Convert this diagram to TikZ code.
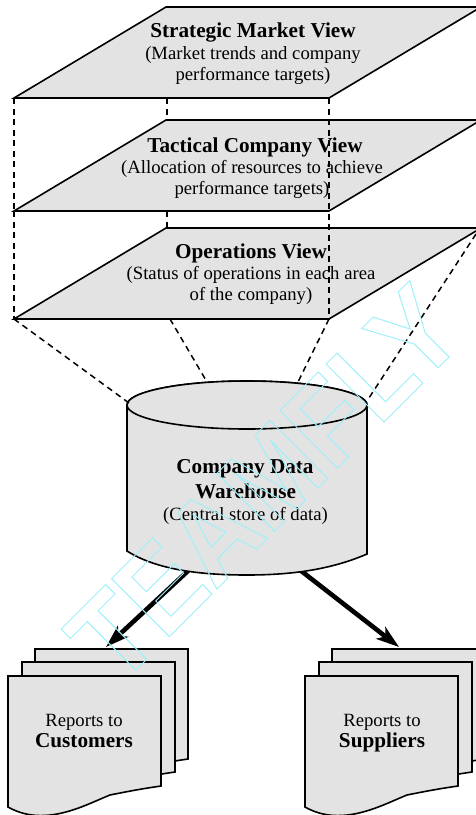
\documentclass[tikz,border=0pt]{standalone}
\usepackage{fontspec}
\setmainfont{Liberation Serif}
\newfontfamily\wmfont{Liberation Sans}[FakeStretch=0.9]
\usetikzlibrary{arrows.meta}
\definecolor{panel}{HTML}{E3E3E3}
\definecolor{wmcyan}{HTML}{A8F2FA}
\tikzset{
  x=1pt,y=-1pt,
  shape line/.style={draw=black,line width=1.6pt,fill=panel,line join=miter},
  guide/.style={draw=black,line width=1.5pt,dash pattern=on 6pt off 4.5pt},
  flow/.style={draw=black,line width=4.6pt,-{Stealth[length=23pt,width=15pt,inset=6pt]}},
  label/.style={align=center,inner sep=0pt,anchor=base,text=black},
  head/.style={font=\fontsize{21.2}{24}\selectfont\bfseries},
  sub/.style={font=\fontsize{18.7}{21}\selectfont},
}
\newcommand{\planeat}[2]{%
  \coordinate (#2bl) at (14,#1);
  \coordinate (#2br) at (329,#1);
  \coordinate (#2tl) at (166,#1-91);
  \coordinate (#2tr) at (481,#1-91);
  \path[shape line] (#2bl) -- (#2br) -- (#2tr) -- (#2tl) -- cycle;}
\newcommand{\reportstack}[2]{%
  \foreach \dx/\dy in {27/-27,14/-14,0/0}{%
    \path[shape line] (#1+\dx,676+\dy) -- (#1+\dx+153,676+\dy) -- (#1+\dx+153,786+\dy)
      .. controls (#1+\dx+132,789+\dy) and (#1+\dx+117,792+\dy) .. (#1+\dx+102,795+\dy)
      .. controls (#1+\dx+77,805+\dy) and (#1+\dx+37,828+\dy) .. (#1+\dx,807+\dy) -- cycle;
  }%
  \coordinate (#2) at (#1+76,0);}
\begin{document}
\begin{tikzpicture}
\useasboundingbox (0,0) rectangle (476,815);
\clip (0,0) rectangle (476,815);
\fill[white] (0,0) rectangle (476,815);
% arrows, behind the warehouse
\coordinate (wleft) at (189,570);
\coordinate (wright) at (300,570);
\coordinate (custtop) at (106,647);
\coordinate (supptop) at (399,647);
\draw[flow] (wleft) -- (custtop);
\draw[flow] (wright) -- (supptop);
% report stacks
\reportstack{8}{custdoc}
\reportstack{305}{suppdoc}
\node[label,sub] (custa) at (84,726) {Reports to};
\node[label,head] (custb) at (84,747) {Customers};
\node[label,sub] (suppa) at (382,726) {Reports to};
\node[label,head] (suppb) at (382,747) {Suppliers};
% warehouse
\coordinate (cyltop) at (247,405);
\path[shape line] (127,405) -- (127,551) .. controls (160,572) and (210,575) .. (247,575)
   .. controls (290,575) and (330,570) .. (367,554) -- (367,405) arc[start angle=0,end angle=180,x radius=120,y radius=-24] ;
\path[shape line] (cyltop) ellipse[x radius=120,y radius=24];
\coordinate (cylnw) at (129,403);
\coordinate (cylna) at (207,382);
\coordinate (cylnb) at (298,382);
\coordinate (cylne) at (367,401);
\node[label,head] (wa) at (245,473) {Company Data};
\node[label,head] (wb) at (245.5,498) {Warehouse};
\node[label,sub] (wc) at (245.5,520) {(Central store of data)};
% planes
\planeat{98}{pa}
\planeat{211}{pb}
\planeat{319}{pc}
\node[label,head] (ta) at (253,37) {Strategic Market View};
\node[label,sub] (tb) at (253,59) {(Market trends and company};
\node[label,sub] (tc) at (253,80) {performance targets)};
\node[label,head] (ua) at (255,152) {Tactical Company View};
\node[label,sub] (ub) at (252,173) {(Allocation of resources to achieve};
\node[label,sub] (uc) at (252,194) {performance targets)};
\node[label,head] (va) at (251,258) {Operations View};
\node[label,sub] (vb) at (251,279) {(Status of operations in each area};
\node[label,sub] (vc) at (251,300) {of the company)};
% dashed guides
\coordinate (pcmid) at (170,319);
\coordinate (pcfar) at (476,234);
\coordinate (pamid) at (167,98);
\coordinate (pbmid) at (167,120);
\coordinate (pbmidb) at (167,211);
\coordinate (pcmidt) at (167,228);
\draw[guide] (pabl) -- (pbbl);
\draw[guide] (pbbl) -- (pcbl);
\draw[guide] (pabr) -- (pcbr);
\draw[guide] (pamid) -- (pbmid);
\draw[guide] (pbmidb) -- (pcmidt);
\draw[guide] (pcbl) -- (cylnw);
\draw[guide] (pcmid) -- (cylna);
\draw[guide] (pcbr) -- (cylnb);
\draw[guide] (pcfar) -- (cylne);
% watermark
\node[inner sep=0pt,anchor=base west,rotate=45,text=wmcyan,font=\wmfont\fontsize{119}{119}\selectfont\bfseries] (mark) at (118,688)
  {\special{pdf:code q 1 Tr 0.62 0.94 0.98 RG 1 w}TEAMFLY\special{pdf:code 0 Tr Q}};
\end{tikzpicture}
\end{document}
